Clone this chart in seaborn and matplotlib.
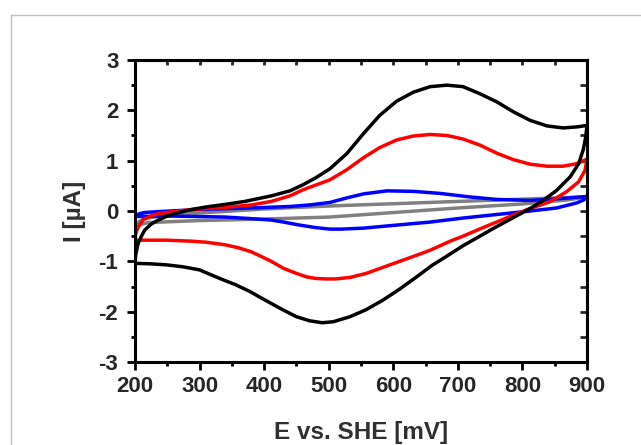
import matplotlib
matplotlib.use("Agg")
import matplotlib.pyplot as plt
from matplotlib.lines import Line2D
from matplotlib.ticker import MultipleLocator
import pandas as pd
import seaborn as sns

# cyclic voltammograms, each listed as forward scan then reverse scan
e_black = [200, 201, 203, 205, 210, 215, 225, 236, 250, 262, 288, 310, 339, 370, 411, 440, 460, 480, 502,
           528, 554, 579, 605, 631, 657, 683, 708, 734, 760, 786, 812, 838, 863, 884, 900,
           898, 894, 887, 874, 853, 832, 812, 786, 760, 734, 708, 680, 660, 636, 610, 584, 558, 533, 507,
           490, 470, 450, 430, 400, 378, 355, 337, 320, 300, 275, 249, 225, 200]
i_black = [-1.04, -0.88, -0.75, -0.64, -0.50, -0.38, -0.26, -0.18, -0.10, -0.05, 0.03, 0.08, 0.13, 0.19,
           0.30, 0.40, 0.52, 0.66, 0.84, 1.14, 1.54, 1.90, 2.18, 2.36, 2.47, 2.50, 2.47, 2.33, 2.17, 1.97,
           1.80, 1.69, 1.65, 1.67, 1.70,
           1.47, 1.21, 0.94, 0.68, 0.41, 0.21, 0.05, -0.13, -0.31, -0.50, -0.69, -0.92, -1.08, -1.31, -1.55,
           -1.77, -1.96, -2.10, -2.20, -2.22, -2.18, -2.10, -1.97, -1.76, -1.60, -1.46, -1.37, -1.28, -1.17,
           -1.11, -1.07, -1.05, -1.04]

e_red = [200, 201, 203, 205, 209, 213, 225, 236, 262, 288, 339, 380, 411, 440, 460, 481, 502, 528, 554,
         579, 605, 631, 657, 683, 708, 734, 760, 786, 812, 838, 863, 884, 900,
         897, 887, 868, 842, 812, 786, 760, 739, 708, 688, 657, 636, 610, 584, 558, 533, 510, 497, 480, 466,
         450, 430, 411, 395, 380, 360, 339, 310, 288, 249, 200]
i_red = [-0.58, -0.46, -0.38, -0.32, -0.24, -0.17, -0.10, -0.05, -0.01, 0.03, 0.07, 0.12, 0.19, 0.30, 0.42,
         0.52, 0.62, 0.82, 1.06, 1.26, 1.41, 1.49, 1.52, 1.50, 1.43, 1.31, 1.15, 1.02, 0.93, 0.89, 0.89,
         0.94, 1.03,
         0.81, 0.58, 0.38, 0.18, 0.05, -0.08, -0.22, -0.33, -0.50, -0.60, -0.78, -0.88, -1.00, -1.12, -1.24,
         -1.32, -1.35, -1.35, -1.34, -1.31, -1.24, -1.14, -1.00, -0.90, -0.81, -0.73, -0.67, -0.62, -0.60,
         -0.58, -0.58]

e_blue = [200, 202, 208, 215, 240, 300, 352, 400, 440, 470, 502, 528, 554, 590, 631, 672, 718, 760, 812,
          863, 900,
          895, 884, 853, 812, 760, 708, 657, 605, 554, 520, 502, 480, 455, 430, 411, 378, 339, 300, 250, 200]
i_blue = [-0.11, -0.08, -0.05, -0.03, -0.01, 0.03, 0.05, 0.07, 0.09, 0.12, 0.17, 0.26, 0.34, 0.40, 0.39,
          0.35, 0.28, 0.23, 0.21, 0.25, 0.29,
          0.22, 0.16, 0.06, 0.00, -0.07, -0.14, -0.22, -0.28, -0.34, -0.36, -0.36, -0.33, -0.28, -0.22,
          -0.18, -0.15, -0.12, -0.11, -0.10, -0.11]

e_gray = [200, 205, 215, 240, 300, 400, 502, 700, 900,
          870, 800, 700, 502, 400, 300, 220, 200]
i_gray = [-0.30, -0.22, -0.15, -0.10, -0.04, 0.04, 0.10, 0.19, 0.28,
          0.22, 0.14, 0.06, -0.12, -0.16, -0.19, -0.23, -0.30]

traces = [("gray", e_gray, i_gray, "#808080"),
          ("blue", e_blue, i_blue, "#0000ff"),
          ("red", e_red, i_red, "#ff0000"),
          ("black", e_black, i_black, "#000000")]

sns.set_theme(style="ticks")
plt.rcParams["font.family"] = ["Liberation Sans", "DejaVu Sans"]
plt.rcParams["font.weight"] = "bold"
plt.rcParams["axes.unicode_minus"] = False

fig = plt.figure(figsize=(6.41, 4.45), dpi=100)
ax = fig.add_axes([0.2106, 0.1865, 0.7052, 0.6787])

for name, e, i, col in traces:
    df = pd.DataFrame({"E": e, "I": i})
    sns.lineplot(data=df, x="E", y="I", sort=False, estimator=None, color=col, lw=2.5, ax=ax)

ax.set_xlim(200, 900)
ax.set_ylim(-3, 3)
ax.xaxis.set_major_locator(MultipleLocator(100))
ax.xaxis.set_minor_locator(MultipleLocator(50))
ax.yaxis.set_major_locator(MultipleLocator(1))
ax.yaxis.set_minor_locator(MultipleLocator(0.5))
ax.tick_params(which="major", direction="out", length=6, width=2, labelsize=16, color="black", pad=4)
ax.tick_params(which="minor", direction="out", length=3, width=2, color="black")
ax.tick_params(axis="y", which="major", pad=6)
for lab in ax.get_xticklabels() + ax.get_yticklabels():
    lab.set_fontweight("bold")

for s in ax.spines.values():
    s.set_linewidth(2.2)
    s.set_color("black")

# mirrored inward ticks on top and right
top = ax.secondary_xaxis("top")
top.set_xticks(list(range(200, 901, 50)))
top.tick_params(direction="in", length=3.5, width=2, labeltop=False)
top.spines["top"].set_linewidth(2.2)
right = ax.secondary_yaxis("right")
right.set_yticks([-3 + 0.5 * k for k in range(13)])
right.tick_params(direction="in", length=5, width=2, labelright=False)
right.spines["right"].set_linewidth(2.2)

ax.set_xlabel("E vs. SHE [mV]", fontsize=17.5, fontweight="bold", color="#303030", labelpad=17)
ax.set_ylabel("I [µA]", fontsize=17.5, fontweight="bold", color="#303030", labelpad=9)

# light frame around the figure, cut by the right and bottom edges
fig.add_artist(Line2D([0.0176, 0.0176], [0.967, -0.1], transform=fig.transFigure, color="#c0c0c0", lw=1))
fig.add_artist(Line2D([0.0176, 1.1], [0.967, 0.967], transform=fig.transFigure, color="#c0c0c0", lw=1))

fig.savefig("out.png", dpi=100)
